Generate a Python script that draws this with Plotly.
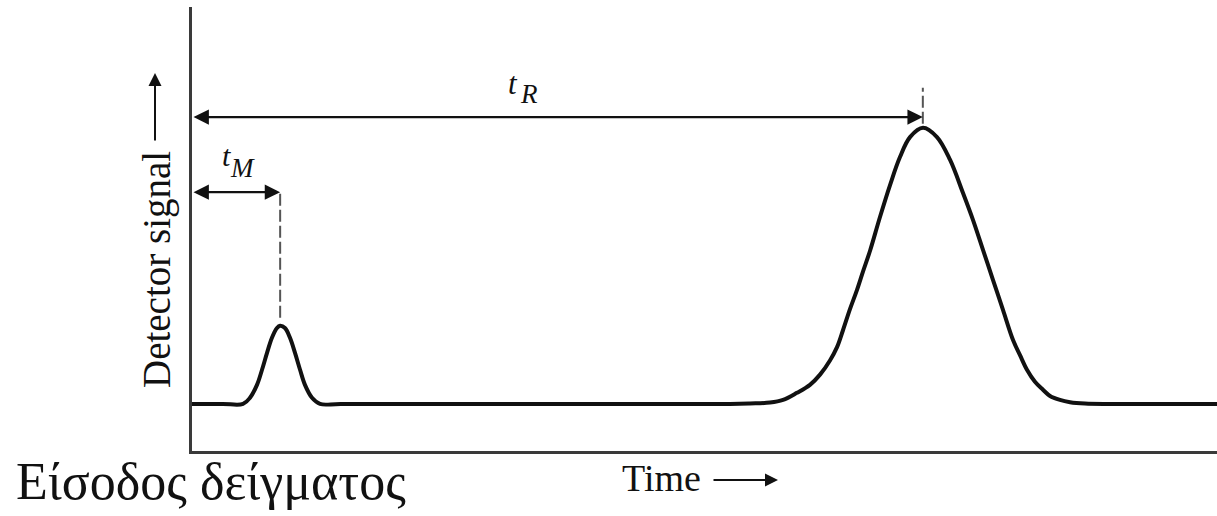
import plotly.graph_objects as go

# ---- data (time units, signal units above baseline) ----
time_pts = [0.00, 0.30, 0.498, 0.566, 0.634, 0.683, 0.732, 0.780, 0.829, 0.859, 0.907, 0.956,
            1.005, 1.054, 1.102, 1.171, 1.249, 1.45, 3.40, 5.25,
            5.444, 5.639, 5.766, 5.902, 6.029, 6.127, 6.224, 6.293, 6.351, 6.420, 6.488,
            6.546, 6.615, 6.712, 6.810, 6.907, 7.005, 7.132, 7.268, 7.395, 7.522, 7.620,
            7.717, 7.815, 7.912, 8.010, 8.078, 8.146, 8.224, 8.302, 8.371, 8.468, 8.566,
            8.712, 8.95, 10.0]
signal_pts = [0.00, 0.00, 0.00, 0.14, 0.43, 0.77, 1.15, 1.49, 1.71, 1.76, 1.71, 1.49,
              1.15, 0.77, 0.43, 0.14, 0.00, 0.00, 0.00, 0.00,
              0.01, 0.03, 0.09, 0.25, 0.43, 0.66, 0.98, 1.28, 1.66, 2.14, 2.57,
              2.98, 3.45, 4.21, 4.93, 5.56, 6.01, 6.22, 6.01, 5.50, 4.75, 4.14,
              3.47, 2.79, 2.12, 1.44, 1.10, 0.77, 0.50, 0.32, 0.18, 0.09, 0.04,
              0.01, 0.00, 0.00]

t_M = 0.86          # dead time (unretained peak)
t_R = 7.13          # retention time
arrow_level_M = 4.77
arrow_level_R = 6.46
peak_top_M = 1.94
peak_top_R = 6.31
dash_top_R = 7.12

labels = {"y": "Detector signal", "x": "Time", "inject": "Είσοδος δείγματος"}

SERIF = "Liberation Serif, Times New Roman, serif"
INK = "#111111"

fig = go.Figure()
fig.add_trace(go.Scatter(
    x=time_pts, y=signal_pts, mode="lines",
    line=dict(color=INK, width=4, shape="spline", smoothing=1.0),
    hoverinfo="skip", showlegend=False))

# dashed markers above the peaks
fig.add_shape(type="line", x0=t_M, x1=t_M, y0=peak_top_M, y1=arrow_level_M,
              line=dict(color="#555555", width=2, dash="12px,4px"))
fig.add_shape(type="line", x0=t_R, x1=t_R, y0=peak_top_R, y1=dash_top_R,
              line=dict(color="#555555", width=2, dash="12px,4px"))

# double-headed arrows
for tip, lvl in [(t_R, arrow_level_R), (t_M, arrow_level_M)]:
    fig.add_annotation(x=tip, y=lvl, ax=0, ay=lvl, xref="x", yref="y",
                       axref="x", ayref="y", text="", showarrow=True,
                       arrowhead=2, arrowside="end+start", arrowsize=1.4,
                       arrowwidth=2.2, arrowcolor=INK, standoff=0, startstandoff=0)

def px2paper(px, py):
    return (px - 192) / 1025.0, (451 - py) / 444.0

def label(text, px, py, size, italic=False, angle=0, xanchor="center"):
    x, y = px2paper(px, py)
    fig.add_annotation(x=x, y=y, xref="paper", yref="paper",
                       text=f"<i>{text}</i>" if italic else text,
                       showarrow=False, textangle=angle, xanchor=xanchor,
                       yanchor="middle",
                       font=dict(family=SERIF, size=size, color=INK))

label("t", 513, 83, 31, italic=True)
label("R", 529, 94, 27, italic=True)
label("t", 226, 155, 30, italic=True)
label("M", 242, 168, 27, italic=True)

label(labels["y"], 157, 270, 39, angle=-90)
label(labels["x"], 661, 478, 38)
label(labels["inject"], 14, 481, 52, xanchor="left")

# small direction arrows next to axis labels
hx, hy = px2paper(155, 73)
fig.add_annotation(x=hx, y=hy, xref="paper", yref="paper", ax=0, ay=69, text="",
                   showarrow=True, arrowhead=2, arrowsize=1.3, arrowwidth=2,
                   arrowcolor=INK, standoff=0)
hx, hy = px2paper(778, 480)
fig.add_annotation(x=hx, y=hy, xref="paper", yref="paper", ax=-66, ay=0, text="",
                   showarrow=True, arrowhead=2, arrowsize=1.3, arrowwidth=2,
                   arrowcolor=INK, standoff=0)

fig.update_layout(
    width=1217, height=516,
    margin=dict(l=192, r=0, t=7, b=65),
    paper_bgcolor="white", plot_bgcolor="white",
    showlegend=False,
)
fig.update_xaxes(range=[0, 10], showgrid=False, zeroline=False, showticklabels=False,
                 ticks="", showline=True, linecolor="#3a3a3a", linewidth=3)
fig.update_yaxes(range=[-1.06, 8.94], showgrid=False, zeroline=False, showticklabels=False,
                 ticks="", showline=True, linecolor="#3a3a3a", linewidth=3)

fig.write_html("out.html", config={"displayModeBar": False},
               post_script="document.body.style.margin='0';document.body.style.overflow='hidden';")
